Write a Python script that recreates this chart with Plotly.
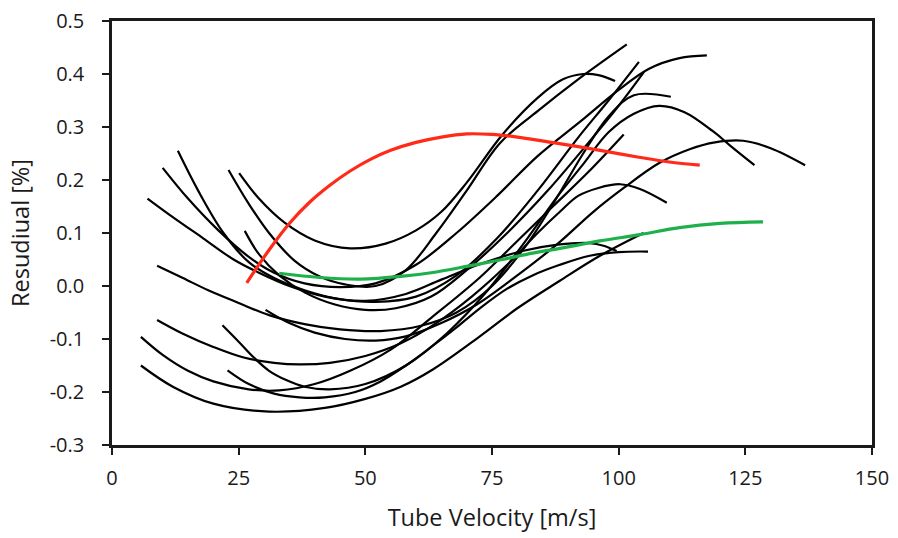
import plotly.graph_objects as go

# ---- data ----
x_title = "Tube Velocity [m/s]"
y_title = "Resudiual [%]"

x_tickvals = [0, 25, 50, 75, 100, 125, 150]
x_ticktext = ["0", "25", "50", "75", "100", "125", "150"]
y_tickvals = [-0.3, -0.2, -0.1, 0.0, 0.1, 0.2, 0.3, 0.4, 0.5]
y_ticktext = ["-0.3", "-0.2", "-0.1", "0.0", "0.1", "0.2", "0.3", "0.4", "0.5"]

# black curves
a_x = [7, 12, 18, 24, 29, 35, 42, 50, 58, 65, 72.6, 81, 88, 94.3, 97, 99.6]
a_y = [0.165, 0.13, 0.09, 0.05, 0.025, 0.0, -0.02, -0.028, -0.015, 0.012, 0.041, 0.066, 0.078, 0.081, 0.076, 0.066]

b_x = [10, 15, 21, 27, 32, 38, 45, 52, 60, 68, 76, 84, 92.4, 100, 106, 112, 117.4]
b_y = [0.223, 0.165, 0.105, 0.055, 0.025, 0.005, -0.002, 0.005, 0.04, 0.1, 0.17, 0.245, 0.31, 0.37, 0.41, 0.43, 0.435]

c_x = [13, 17, 22, 27, 32, 38, 45, 52, 60, 68, 76, 84, 92, 98, 104]
c_y = [0.255, 0.18, 0.1, 0.045, 0.015, -0.008, -0.025, -0.03, -0.02, 0.02, 0.09, 0.18, 0.28, 0.35, 0.423]

d_x = [23, 27, 31, 36, 41, 46, 52, 58, 64, 70, 76.6, 84, 92, 101.6]
d_y = [0.219, 0.155, 0.1, 0.048, 0.018, 0.003, 0.0, 0.03, 0.1, 0.18, 0.27, 0.33, 0.39, 0.456]

e_x = [25.1, 29, 34, 40, 47, 54, 60, 65, 70, 77, 84, 89, 93, 96, 99.3]
e_y = [0.213, 0.165, 0.12, 0.086, 0.071, 0.08, 0.105, 0.14, 0.195, 0.285, 0.355, 0.39, 0.40, 0.398, 0.387]

f_x = [26.2, 29, 33, 38, 44, 50, 56, 63, 70, 78, 86, 94, 100, 105]
f_y = [0.104, 0.06, 0.02, -0.012, -0.035, -0.045, -0.042, -0.02, 0.03, 0.1, 0.18, 0.27, 0.34, 0.404]

g_x = [8.9, 14, 19, 25, 31, 38, 45, 53, 61, 68, 75, 82, 88, 93, 98, 103, 110.3]
g_y = [0.038, 0.015, -0.008, -0.032, -0.055, -0.072, -0.082, -0.085, -0.075, -0.05, 0.0, 0.08, 0.17, 0.25, 0.32, 0.36, 0.357]

h_x = [8.9, 14, 20, 26, 32, 37, 43, 50, 57, 64, 71, 78, 84, 88.4, 92, 96, 100.3, 104.2, 109.5]
h_y = [-0.064, -0.09, -0.115, -0.135, -0.145, -0.148, -0.145, -0.132, -0.108, -0.07, -0.02, 0.04, 0.1, 0.14, 0.17, 0.185, 0.192, 0.183, 0.157]

i_x = [5.7, 10, 15, 20, 27, 33, 40, 47, 55, 63, 72.6, 80, 87, 94, 101]
i_y = [-0.096, -0.13, -0.16, -0.18, -0.195, -0.197, -0.185, -0.16, -0.12, -0.06, 0.016, 0.085, 0.15, 0.215, 0.286]

j_x = [5.7, 12, 20, 31, 42, 50, 57, 63.4, 72.6, 80, 88.4, 96.3, 104.9]
j_y = [-0.15, -0.19, -0.222, -0.237, -0.23, -0.213, -0.19, -0.157, -0.095, -0.042, 0.01, 0.057, 0.10]

k_x = [21.8, 25, 28, 31, 34.5, 38, 43, 50, 58, 66, 74, 82, 88, 93, 98, 103, 108, 113, 118.6, 122, 126.8]
k_y = [-0.074, -0.105, -0.135, -0.16, -0.178, -0.19, -0.195, -0.185, -0.15, -0.09, -0.01, 0.09, 0.17, 0.23, 0.29, 0.325, 0.34, 0.328, 0.292, 0.265, 0.228]

l_x = [22.8, 27, 32, 37, 42, 48, 53, 58, 63, 68, 72.6, 78, 83, 88.4, 94.3, 100, 105.8]
l_y = [-0.159, -0.185, -0.203, -0.21, -0.21, -0.2, -0.18, -0.15, -0.115, -0.078, -0.042, -0.005, 0.02, 0.04, 0.057, 0.064, 0.065]

m_x = [30.3, 35, 40, 46, 52, 58, 65, 72, 80, 88, 95, 101, 108, 114, 119, 124.6, 130, 136.8]
m_y = [-0.045, -0.07, -0.088, -0.1, -0.103, -0.095, -0.07, -0.035, 0.02, 0.08, 0.14, 0.185, 0.232, 0.258, 0.271, 0.274, 0.26, 0.228]

# coloured curves
red_x = [26.6, 31, 35, 39, 43, 47, 51, 55, 60, 65, 70, 75, 80, 86, 92, 98, 104, 110, 116]
red_y = [0.006, 0.068, 0.118, 0.158, 0.19, 0.217, 0.239, 0.256, 0.271, 0.281, 0.287, 0.286, 0.281, 0.272, 0.263, 0.253, 0.243, 0.234, 0.228]

green_x = [33, 41, 49, 57, 63, 70, 77, 83, 88.4, 96.3, 104.2, 112, 120, 128.5]
green_y = [0.024, 0.016, 0.013, 0.018, 0.025, 0.037, 0.05, 0.062, 0.071, 0.085, 0.097, 0.11, 0.118, 0.121]

black_curves = [
    (a_x, a_y), (b_x, b_y), (c_x, c_y), (d_x, d_y), (e_x, e_y), (f_x, f_y),
    (g_x, g_y), (h_x, h_y), (i_x, i_y), (j_x, j_y), (k_x, k_y), (l_x, l_y), (m_x, m_y),
]

fig = go.Figure()
for cx, cy in black_curves:
    fig.add_trace(go.Scatter(x=cx, y=cy, mode="lines",
                             line=dict(color="#000000", width=2.2, shape="spline", smoothing=1.0),
                             hoverinfo="skip", showlegend=False))
fig.add_trace(go.Scatter(x=red_x, y=red_y, mode="lines",
                         line=dict(color="#ff2a17", width=3.2, shape="spline", smoothing=1.0),
                         showlegend=False))
fig.add_trace(go.Scatter(x=green_x, y=green_y, mode="lines",
                         line=dict(color="#1eb04a", width=3.2, shape="spline", smoothing=1.0),
                         showlegend=False))

font_family = "Open Sans, Liberation Sans, sans-serif"
fig.update_layout(
    width=898, height=538,
    margin=dict(l=112, r=26, t=21, b=93),
    paper_bgcolor="white", plot_bgcolor="white",
    font=dict(family=font_family, color="#1a1a1a"),
    showlegend=False,
)
fig.update_xaxes(
    range=[0, 150], tickvals=x_tickvals, ticktext=x_ticktext,
    showgrid=False, zeroline=False, automargin=False,
    showline=True, linecolor="#1a1a1a", linewidth=2.5, mirror=True,
    ticks="outside", ticklen=7, tickwidth=2, tickcolor="#1a1a1a",
    ticklabelstandoff=6,
    tickfont=dict(size=20, family=font_family, color="#1a1a1a"),
    title=dict(text=x_title, font=dict(size=23.5, family=font_family, color="#1a1a1a"), standoff=20),
)
fig.update_yaxes(
    range=[-0.3, 0.5], tickvals=y_tickvals, ticktext=y_ticktext,
    showgrid=False, zeroline=False, automargin=False,
    showline=True, linecolor="#1a1a1a", linewidth=2.5, mirror=True,
    ticks="outside", ticklen=7, tickwidth=2, tickcolor="#1a1a1a",
    ticklabelstandoff=14,
    tickfont=dict(size=20, family=font_family, color="#1a1a1a"),
    title=dict(text=y_title, font=dict(size=23.5, family=font_family, color="#1a1a1a"), standoff=14),
)

fig.write_html("out.html")
